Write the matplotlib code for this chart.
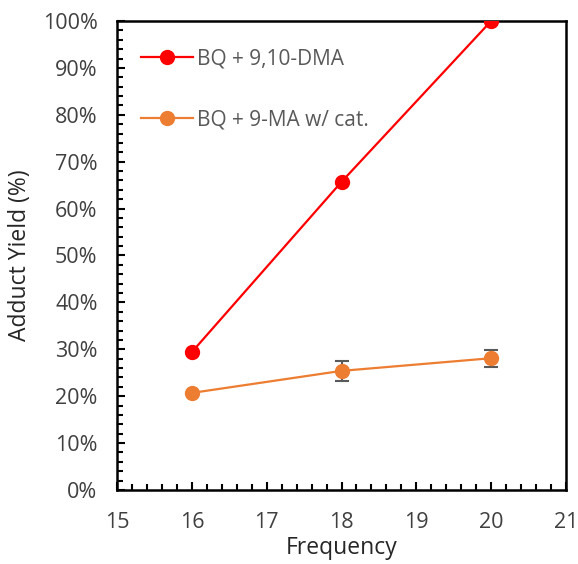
import matplotlib.pyplot as plt
from matplotlib.lines import Line2D
from matplotlib.ticker import MultipleLocator, PercentFormatter

plt.rcParams['font.family'] = ['Open Sans', 'DejaVu Sans']

freq = [16, 18, 20]
dma = [0.294, 0.657, 1.0]
ma_cat = [0.207, 0.254, 0.281]
ma_err = [0.0, 0.021, 0.018]

labels = ['BQ + 9,10-DMA', 'BQ + 9-MA w/ cat.']
colors = ['#FF0000', '#ED7D31']
txt = '#404040'

fig = plt.figure(figsize=(5.78, 5.64), dpi=100)
ax = fig.add_axes([117 / 578, 1 - 490 / 564, 449 / 578, 469 / 564])

ax.plot(freq, dma, '-o', color=colors[0], lw=1.6, ms=10, zorder=3)
ax.errorbar(freq, ma_cat, yerr=ma_err, fmt='-o', color=colors[1], lw=1.6, ms=10,
            ecolor='#595959', elinewidth=1.5, capsize=5, capthick=1.5, zorder=3)

ax.set_xlim(15, 21)
ax.set_ylim(0, 1)
ax.xaxis.set_major_locator(MultipleLocator(1))
ax.xaxis.set_minor_locator(MultipleLocator(0.2))
ax.yaxis.set_major_locator(MultipleLocator(0.1))
ax.yaxis.set_minor_locator(MultipleLocator(0.02))
ax.yaxis.set_major_formatter(PercentFormatter(1.0, decimals=0))

ax.tick_params(which='major', direction='in', length=6, width=1.5, labelsize=15.5, colors=txt)
ax.tick_params(which='minor', direction='in', length=4, width=1.5)
ax.tick_params(which='both', color='black')
ax.tick_params(axis='x', pad=16)
ax.tick_params(axis='y', pad=14)
for s in ax.spines.values():
    s.set_linewidth(1.8)

ax.set_xlabel('Frequency', fontsize=16.5, color='#262626', labelpad=2)
ax.set_ylabel('Adduct Yield (%)', fontsize=16.5, color='#262626', labelpad=8)

handles = [Line2D([], [], color=c, lw=1.6, marker='o', ms=10) for c in colors]
ax.legend(handles, labels, loc='upper left', frameon=False, fontsize=15, labelcolor='#595959',
          handlelength=2.5, labelspacing=1.9, borderaxespad=1.0, handletextpad=0.2,
          bbox_to_anchor=(-0.011, 1.003))

fig.savefig('out.png', dpi=100)
